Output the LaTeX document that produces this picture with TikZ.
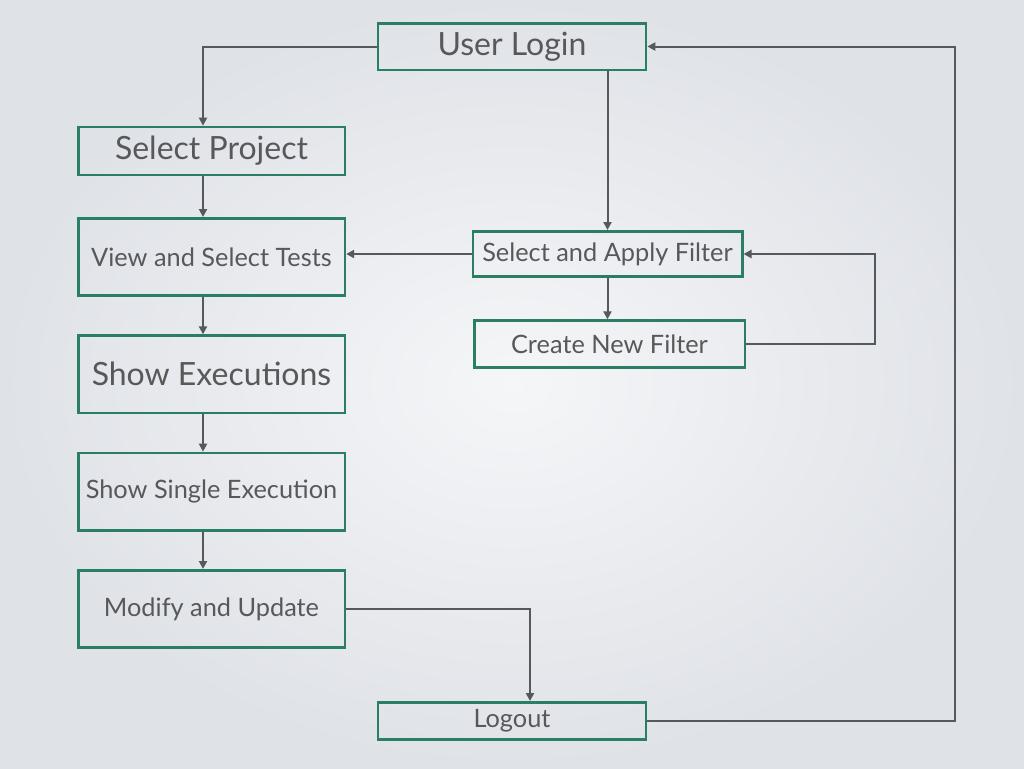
\documentclass[tikz,border=0pt]{standalone}
\usepackage{fontspec}
\setmainfont{Lato}
\usetikzlibrary{arrows.meta, positioning}

\definecolor{boxgreen}{RGB}{42,126,100}
\definecolor{linegray}{RGB}{85,88,92}
\definecolor{textgray}{RGB}{88,88,90}
\definecolor{bginner}{RGB}{245,246,248}
\definecolor{bgouter}{RGB}{223,226,231}

\begin{document}
\begin{tikzpicture}[x=0.75pt,y=-0.75pt,>={Triangle[length=6pt,width=6pt]},
  flow/.style={->,draw=linegray,line width=1.5pt},
  stepbox/.style={rectangle,draw=boxgreen,line width=2pt,text=textgray,inner sep=0pt},
  big/.style={stepbox,font=\fontsize{24}{28}\selectfont},
  small/.style={stepbox,font=\fontsize{19}{22}\selectfont},
  node distance=28pt]
  % background
  \shade[inner color=bginner,outer color=bgouter] (0,0) rectangle (1024,768);
  \useasboundingbox (0,0) rectangle (1024,768);

  % left column
  \node[big,minimum width=201pt,minimum height=35pt] (login) at (512,46.5) {User Login};
  \node[big,minimum width=200pt,minimum height=36pt] (project) at (211.5,151) {Select Project};
  \node[small,minimum width=200pt,minimum height=58pt] (tests) [below=30.5pt of project] {View and Select Tests};
  \node[big,minimum width=200pt,minimum height=58pt] (execs) [below=of tests] {Show Executions};
  \node[small,minimum width=200pt,minimum height=58pt] (single) [below=of execs] {Show Single Execution};
  \node[small,minimum width=200pt,minimum height=58pt] (update) [below=of single] {Modify and Update};
  \node[small,minimum width=201pt,minimum height=28pt] (logout) at (512,721) {Logout};

  % filters
  \node[small,minimum width=202pt,minimum height=34pt] (apply) at (607.5,254) {Select and Apply Filter};
  \node[small,minimum width=203pt,minimum height=35pt] (newfilter) [below=31pt of apply,xshift=1.5pt] {Create New Filter};

  % helper coordinates for the routes
  \coordinate (colx) at (203,0);
  \coordinate (dropx) at (530,0);
  \coordinate (floop) at (875,0);
  \coordinate (rloop) at (955,0);

  \draw[flow] (login.west) -| (project.north -| colx);
  \draw[flow] (project.south -| colx) -- (tests.north -| colx);
  \draw[flow] (tests.south -| colx) -- (execs.north -| colx);
  \draw[flow] (execs.south -| colx) -- (single.north -| colx);
  \draw[flow] (single.south -| colx) -- (update.north -| colx);
  \draw[flow] (apply.north |- login.south) -- (apply.north);
  \draw[flow] (apply.west) -- (apply.west -| tests.east);
  \draw[flow] (apply.south) -- (apply.south |- newfilter.north);
  \draw[flow] (newfilter.east) -- (newfilter.east -| floop) |- (apply.east);
  \draw[flow] (update.east) -| (logout.north -| dropx);
  \draw[flow] (logout.east) -- (logout.east -| rloop) |- (login.east);
\end{tikzpicture}
\end{document}
